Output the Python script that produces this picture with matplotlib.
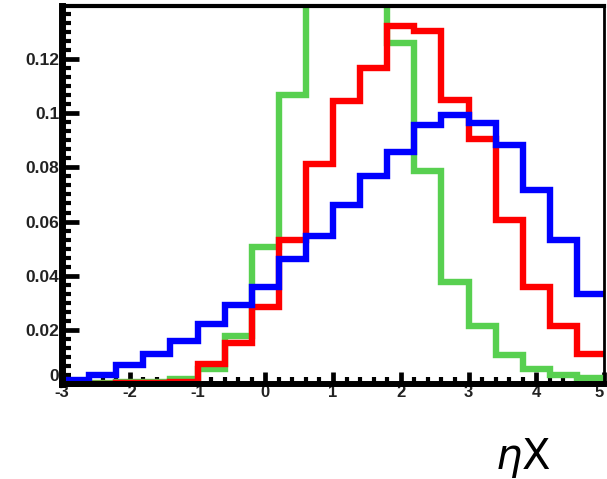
import numpy as np
import matplotlib
matplotlib.use("Agg")
import matplotlib.pyplot as plt
from matplotlib.ticker import MultipleLocator, FixedLocator, FixedFormatter

# bin edges: 20 bins of width 0.4 from -3 to 5
bin_edges = [-3.0, -2.6, -2.2, -1.8, -1.4, -1.0, -0.6, -0.2, 0.2, 0.6, 1.0,
             1.4, 1.8, 2.2, 2.6, 3.0, 3.4, 3.8, 4.2, 4.6, 5.0]

blue_vals = [0.0015, 0.0032, 0.0069, 0.0112, 0.0159, 0.0223, 0.0293, 0.0359,
             0.0460, 0.0548, 0.0662, 0.0768, 0.0857, 0.0956, 0.0995, 0.0964,
             0.0884, 0.0717, 0.0532, 0.0332]
red_vals = [0.0001, 0.0001, 0.0002, 0.0003, 0.0008, 0.0073, 0.0151, 0.0283,
            0.0530, 0.0814, 0.1044, 0.1168, 0.1323, 0.1304, 0.1050, 0.0906,
            0.0607, 0.0357, 0.0215, 0.0110]
green_vals = [0.0005, 0.0005, 0.0006, 0.0008, 0.0017, 0.0054, 0.0178, 0.0505,
              0.1067, 0.1550, 0.1650, 0.1500, 0.1258, 0.0786, 0.0375, 0.0215,
              0.0106, 0.0054, 0.0033, 0.0023]

xticks = [-3, -2, -1, 0, 1, 2, 3, 4, 5]
xtick_labels = ["-3", "-2", "-1", "0", "1", "2", "3", "4", "5"]
yticks = [0, 0.02, 0.04, 0.06, 0.08, 0.1, 0.12]
ytick_labels = ["0", "0.02", "0.04", "0.06", "0.08", "0.1", "0.12"]
x_label = r"$\eta$X"

W, H = 607, 479
fig = plt.figure(figsize=(W / 100, H / 100), dpi=100)
ax = fig.add_axes([62 / W, 1 - 384 / H, (604 - 62) / W, (384 - 6) / H])

lw = 4.6
ax.stairs(green_vals, bin_edges, baseline=None, color="#58d050", lw=lw, zorder=3)
ax.stairs(red_vals, bin_edges, baseline=None, color="#ff0000", lw=lw, zorder=4)
ax.stairs(blue_vals, bin_edges, baseline=None, color="#0000ff", lw=lw, zorder=5)

ax.set_xlim(-3, 5)
ax.set_ylim(0, 0.1396)

ax.xaxis.set_major_locator(FixedLocator(xticks))
ax.xaxis.set_major_formatter(FixedFormatter(xtick_labels))
ax.xaxis.set_minor_locator(MultipleLocator(0.2))
ax.yaxis.set_major_locator(FixedLocator(yticks))
ax.yaxis.set_major_formatter(FixedFormatter(ytick_labels))
ax.yaxis.set_minor_locator(MultipleLocator(0.02 / 6))

ax.tick_params(axis="y", which="major", direction="in", length=12.5, width=3.4,
               pad=2, labelsize=12.5)
ax.tick_params(axis="y", which="minor", direction="in", length=6.8, width=3.0)
ax.tick_params(axis="x", which="major", direction="in", length=8.6, width=3.4,
               pad=1, labelsize=12)
ax.tick_params(axis="x", which="minor", direction="in", length=5, width=3.0)
for lab in ax.get_xticklabels() + ax.get_yticklabels():
    lab.set_fontfamily("Liberation Sans")
    lab.set_fontweight("bold")
    lab.set_color("#222222")
# lift the y "0" label slightly so it clears the x "-3" label
ax.get_yticklabels()[0].set_va("bottom")
# keep the last x label inside the figure
ax.get_xticklabels()[-1].set_ha("right")

ax.spines["left"].set_linewidth(5)
ax.spines["bottom"].set_linewidth(4.3)
ax.spines["top"].set_linewidth(3)
ax.spines["right"].set_linewidth(2)
for s in ax.spines.values():
    s.set_zorder(6)

fig.text(523 / W, 1 - 458 / H, x_label, fontsize=30, ha="center", va="center",
         family="DejaVu Sans")

fig.savefig("out.png", dpi=100)
